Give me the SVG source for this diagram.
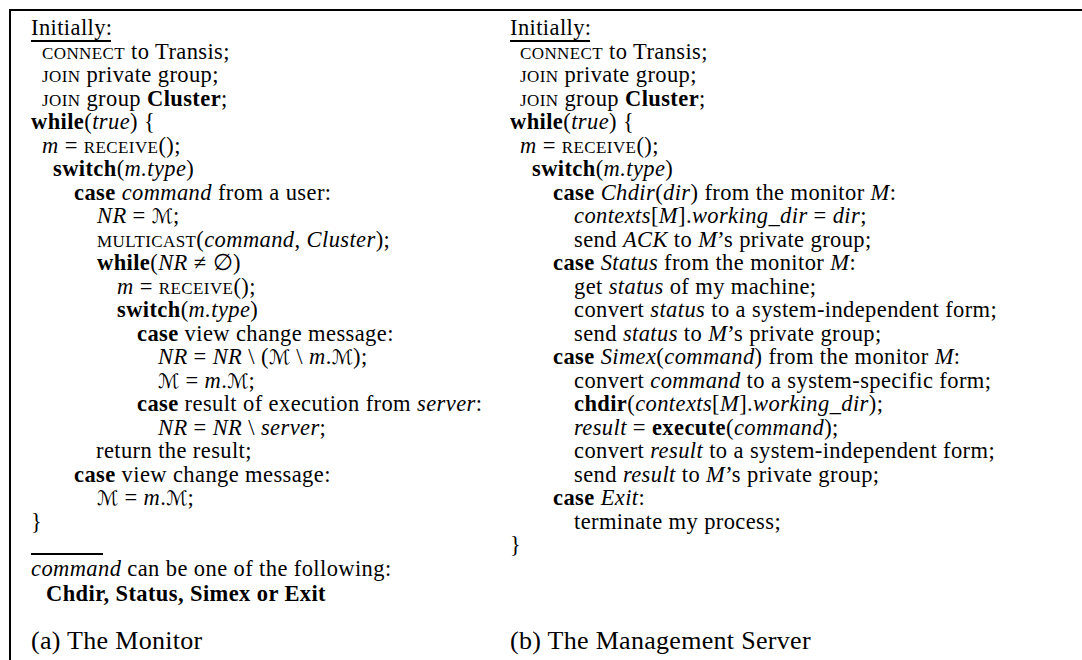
<svg xmlns="http://www.w3.org/2000/svg" width="1082" height="660" viewBox="0 0 1082 660">
<style>
text{font-family:'Liberation Serif','Times New Roman',serif;font-size:22.5px;letter-spacing:0.4px;fill:#000}
.b{font-weight:bold}
.i{font-style:italic}
.sc{font-size:17px}
.cal{font-family:'DejaVu Serif','DejaVu Sans',serif;font-style:normal;font-size:20px;letter-spacing:0}
.cap{font-size:26px;letter-spacing:0.3px}
.rule{stroke:#000;fill:none}
</style>
<rect width="1082" height="660" fill="#fff"/>
<g id="frame">
<line class="rule" x1="9" y1="10" x2="1082" y2="10" stroke-width="2"/>
<line class="rule" x1="10" y1="9" x2="10" y2="660" stroke-width="2"/>
</g>
<g id="monitor">
<text x="31" y="35">Initially:</text>
<line class="rule" x1="31" y1="41" x2="111" y2="41" stroke-width="2"/>
<text x="42" y="58.5"><tspan class="sc">CONNECT</tspan> to Transis;</text>
<text x="42" y="82"><tspan class="sc">JOIN</tspan> private group;</text>
<text x="42" y="105.5"><tspan class="sc">JOIN</tspan> group <tspan class="b">Cluster</tspan>;</text>
<text x="31" y="129"><tspan class="b">while</tspan>(<tspan class="i">true</tspan>) {</text>
<text x="42" y="152.5"><tspan class="i">m</tspan> = <tspan class="sc">RECEIVE</tspan>();</text>
<text x="53" y="176"><tspan class="b">switch</tspan>(<tspan class="i">m.type</tspan>)</text>
<text x="74" y="199.5"><tspan class="b">case</tspan> <tspan class="i">command</tspan> from a user:</text>
<text x="97" y="223"><tspan class="i">NR</tspan> = <tspan class="cal">ℳ</tspan>;</text>
<text x="97" y="246.5"><tspan class="sc">MULTICAST</tspan>(<tspan class="i">command</tspan>, <tspan class="i">Cluster</tspan>);</text>
<text x="97" y="270"><tspan class="b">while</tspan>(<tspan class="i">NR</tspan> ≠ ∅)</text>
<text x="117" y="293.5"><tspan class="i">m</tspan> = <tspan class="sc">RECEIVE</tspan>();</text>
<text x="117" y="317"><tspan class="b">switch</tspan>(<tspan class="i">m.type</tspan>)</text>
<text x="137" y="340.5"><tspan class="b">case</tspan> view change message:</text>
<text x="158" y="364"><tspan class="i">NR</tspan> = <tspan class="i">NR</tspan> \ (<tspan class="cal">ℳ</tspan> \ <tspan class="i">m</tspan>.<tspan class="cal">ℳ</tspan>);</text>
<text x="158" y="387.5"><tspan class="cal">ℳ</tspan> = <tspan class="i">m</tspan>.<tspan class="cal">ℳ</tspan>;</text>
<text x="137" y="411"><tspan class="b">case</tspan> result of execution from <tspan class="i">server</tspan>:</text>
<text x="158" y="434.5"><tspan class="i">NR</tspan> = <tspan class="i">NR</tspan> \ <tspan class="i">server</tspan>;</text>
<text x="96" y="458">return the result;</text>
<text x="74" y="481.5"><tspan class="b">case</tspan> view change message:</text>
<text x="97" y="505"><tspan class="cal">ℳ</tspan> = <tspan class="i">m</tspan>.<tspan class="cal">ℳ</tspan>;</text>
<text x="31" y="528.5">}</text>
<line class="rule" x1="31" y1="554" x2="103" y2="554" stroke-width="2"/>
<text x="31" y="576"><tspan class="i">command</tspan> can be one of the following:</text>
<text x="46" y="601" class="b">Chdir, Status, Simex or Exit</text>
<text x="31" y="649" class="cap">(a) The Monitor</text>
</g>
<g id="server">
<text x="510" y="35">Initially:</text>
<line class="rule" x1="510" y1="41" x2="590" y2="41" stroke-width="2"/>
<text x="520" y="58.5"><tspan class="sc">CONNECT</tspan> to Transis;</text>
<text x="520" y="82"><tspan class="sc">JOIN</tspan> private group;</text>
<text x="520" y="105.5"><tspan class="sc">JOIN</tspan> group <tspan class="b">Cluster</tspan>;</text>
<text x="510" y="129"><tspan class="b">while</tspan>(<tspan class="i">true</tspan>) {</text>
<text x="520" y="152.5"><tspan class="i">m</tspan> = <tspan class="sc">RECEIVE</tspan>();</text>
<text x="532" y="176"><tspan class="b">switch</tspan>(<tspan class="i">m.type</tspan>)</text>
<text x="553" y="199.5"><tspan class="b">case</tspan> <tspan class="i">Chdir</tspan>(<tspan class="i">dir</tspan>) from the monitor <tspan class="i">M</tspan>:</text>
<text x="574" y="223"><tspan class="i">contexts</tspan>[<tspan class="i">M</tspan>].<tspan class="i">working_dir</tspan> = <tspan class="i">dir</tspan>;</text>
<text x="574" y="246.5">send <tspan class="i">ACK</tspan> to <tspan class="i">M</tspan>’s private group;</text>
<text x="553" y="270"><tspan class="b">case</tspan> <tspan class="i">Status</tspan> from the monitor <tspan class="i">M</tspan>:</text>
<text x="574" y="293.5">get <tspan class="i">status</tspan> of my machine;</text>
<text x="574" y="317">convert <tspan class="i">status</tspan> to a system-independent form;</text>
<text x="574" y="340.5">send <tspan class="i">status</tspan> to <tspan class="i">M</tspan>’s private group;</text>
<text x="553" y="364"><tspan class="b">case</tspan> <tspan class="i">Simex</tspan>(<tspan class="i">command</tspan>) from the monitor <tspan class="i">M</tspan>:</text>
<text x="574" y="387.5">convert <tspan class="i">command</tspan> to a system-specific form;</text>
<text x="574" y="411"><tspan class="b">chdir</tspan>(<tspan class="i">contexts</tspan>[<tspan class="i">M</tspan>].<tspan class="i">working_dir</tspan>);</text>
<text x="574" y="434.5"><tspan class="i">result</tspan> = <tspan class="b">execute</tspan>(<tspan class="i">command</tspan>);</text>
<text x="574" y="458">convert <tspan class="i">result</tspan> to a system-independent form;</text>
<text x="574" y="481.5">send <tspan class="i">result</tspan> to <tspan class="i">M</tspan>’s private group;</text>
<text x="553" y="505"><tspan class="b">case</tspan> <tspan class="i">Exit</tspan>:</text>
<text x="574" y="528.5">terminate my process;</text>
<text x="510" y="552">}</text>
<text x="510" y="649" class="cap">(b) The Management Server</text>
</g>
</svg>
